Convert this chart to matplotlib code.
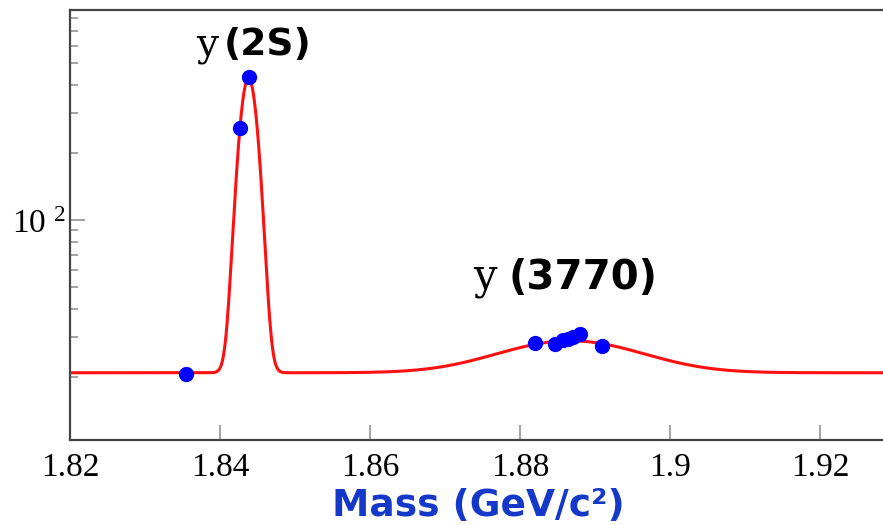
import numpy as np
import matplotlib
matplotlib.use('Agg')
import matplotlib.pyplot as plt
from matplotlib.ticker import LogLocator, NullFormatter, FixedLocator

# points mesures (masse en GeV/c2, nombre d'evenements)
mass_pts = [1.8355, 1.8427, 1.8438, 1.8820, 1.8847, 1.8857, 1.8864, 1.8871, 1.8880, 1.8909]
counts_pts = [20.5, 257, 433, 28.3, 28.0, 29.0, 29.4, 30.0, 31.0, 27.4]

# parametres du fit : fond plat + deux gaussiennes
background = 20.8
peak_mass = [1.8438, 1.8867]
peak_sigma = [0.0011, 0.009]
peak_amp = [409, 8.1]

x_ticks = [1.82, 1.84, 1.86, 1.88, 1.90, 1.92]
x_ticklabels = ['1.82', '1.84', '1.86', '1.88', '1.9', '1.92']

plt.rcParams['mathtext.fontset'] = 'custom'
plt.rcParams['mathtext.rm'] = 'Liberation Serif'

W, H = 883, 525
fig = plt.figure(figsize=(W / 100, H / 100), dpi=100)
ax = fig.add_axes([70 / W, (H - 440) / H, 820 / W, 430 / H])

m = np.linspace(1.81, 1.94, 2000)
fit = np.full_like(m, background)
for mu, s, a in zip(peak_mass, peak_sigma, peak_amp):
    fit += a * np.exp(-0.5 * ((m - mu) / s) ** 2)

ax.plot(m, fit, color='#ff1010', lw=2.2, zorder=2)
ax.plot(mass_pts, counts_pts, 'o', color='#0000ff', ms=11, mec='none', zorder=3)

ax.set_yscale('log')
ax.set_xlim(1.82, 1.9293)
ax.set_ylim(10.42, 866)

ax.xaxis.set_major_locator(FixedLocator(x_ticks))
ax.set_xticklabels(x_ticklabels, fontfamily='Liberation Serif', fontsize=24)
ax.yaxis.set_major_locator(FixedLocator([100]))
ax.set_yticklabels([r'$\mathrm{10^{\ 2}}$'], fontsize=24)
ax.yaxis.set_minor_locator(LogLocator(base=10, subs=np.arange(2, 10)))
ax.yaxis.set_minor_formatter(NullFormatter())

ax.tick_params(axis='both', which='major', direction='in', length=11, width=1.1, color='#8a8a8a')
ax.tick_params(axis='y', which='minor', direction='in', length=6, width=1.1, color='#8a8a8a')
ax.tick_params(axis='x', which='major', pad=9)
ax.tick_params(axis='y', which='major', pad=3)

for sp in ax.spines.values():
    sp.set_color('#444444')
    sp.set_linewidth(1.6)

# etiquettes des resonances
fig.text(196 / W, 1 - 55 / H, 'y', fontfamily='DejaVu Serif', fontsize=28, va='baseline')
fig.text(224 / W, 1 - 55 / H, '(2S)', fontfamily='DejaVu Sans', fontweight='bold', fontsize=27, va='baseline')
fig.text(473 / W, 1 - 289 / H, 'y', fontfamily='DejaVu Serif', fontsize=30, va='baseline')
fig.text(509 / W, 1 - 289 / H, '(3770)', fontfamily='DejaVu Sans', fontweight='bold', fontsize=29,
         va='baseline')

fig.text(478 / W, 1 - 506 / H, 'Mass (GeV/c²)', fontfamily='DejaVu Sans', fontweight='bold',
         fontsize=27, color='#1438c8', ha='center', va='center')

fig.savefig('out.png', dpi=100)
